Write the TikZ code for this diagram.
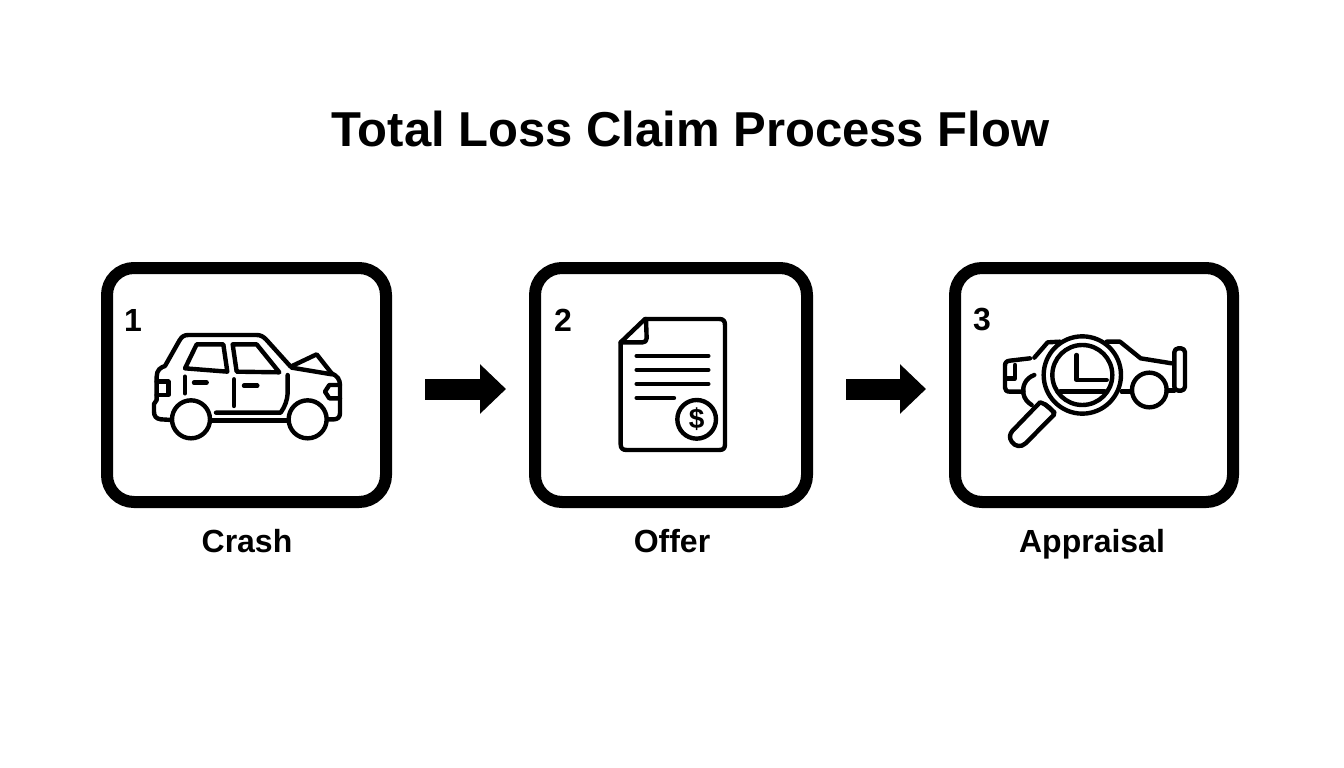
\documentclass[tikz,border=0pt]{standalone}
\usepackage{fontspec}
\setmainfont{Liberation Sans}
\usetikzlibrary{arrows.meta}
\begin{document}
\begin{tikzpicture}[x=1pt,y=-1pt]

    \tikzset{
      stepbox/.style={
        draw,
        line width=12pt,
        rounded corners=27pt,
        minimum height=234pt,
      },
      steplabel/.style={
        anchor=base,
        font=\fontsize{32}{38}\selectfont\bfseries,
      },
      stepnum/.style={
        font=\fontsize{32}{38}\selectfont\bfseries,
      },
      flowarrow/.style={
        line width=21pt,
        -{Triangle[length=26pt,width=48pt]},
      },
      icon/.style={
        line width=4.4pt,
        line cap=round,
        line join=round,
      },
    }
    \useasboundingbox (0,0) rectangle (1344,768);
    \node[font=\fontsize{49}{56}\selectfont\bfseries] (title) at (690.5,129) {Total Loss Claim Process Flow};

    \node[stepbox,minimum width=279pt] (crash) at (246.5,385) {};
    \node[stepbox,minimum width=272pt] (offer) at (671,385) {};
    \node[stepbox,minimum width=278pt] (appraisal) at (1094,385) {};

    \node[stepnum] (num1) at (133,320) {1};
    \node[stepnum] (num2) at (563,320) {2};
    \node[stepnum] (num3) at (982,320) {3};

    \node[steplabel] (crashlabel) at (247,552) {Crash};
    \node[steplabel] (offerlabel) at (672,552) {Offer};
    \node[steplabel] (appraisallabel) at (1092,552) {Appraisal};

    \draw[flowarrow,shorten <=33pt,shorten >=23pt] ([yshift=-4pt]crash.east) -- ([yshift=-4pt]offer.west);
    \draw[flowarrow,shorten <=33pt,shorten >=23pt] ([yshift=-4pt]offer.east) -- ([yshift=-4pt]appraisal.west);

    % car
    \begin{scope}[shift={(140,320)},x=0.3333pt,y=-0.3333pt,icon]
      \draw (95,300) -- (62,298) .. controls (48,296) and (42,288) .. (42,275) -- (42,252) -- (50,240) -- (50,170)
        .. controls (50,150) and (62,142) .. (75,138) -- (118,62) .. controls (125,50) and (132,45) .. (145,45)
        -- (350,45) .. controls (362,45) and (370,50) .. (378,58) -- (452,140) -- (530,103) -- (575,160)
        .. controls (592,168) and (600,178) .. (600,195) -- (600,280) .. controls (600,292) and (592,298) .. (582,298) -- (562,298);
      \draw (455,143) -- (575,163);
      \draw (170,73) -- (250,73) -- (262,155) -- (135,145) -- cycle;
      \draw (278,73) -- (350,73) -- (418,157) -- (290,155) -- cycle;
      \draw (135,170) -- (135,220);
      \draw (162,188) -- (200,188);
      \draw (282,178) -- (282,258);
      \draw (312,197) -- (352,197);
      \draw (443,165) -- (443,220) .. controls (442,240) and (435,260) .. (422,278) -- (228,278);
      \draw (215,302) -- (440,302);
      \draw (50,185) -- (85,185) -- (85,225) -- (50,225);
      \draw (600,195) -- (568,195) -- (555,215) -- (568,235) -- (600,235);
      \draw (153,298) circle (57);
      \draw (503,298) circle (57);
    \end{scope}

    % document
    \begin{scope}[shift={(600,305)},x=0.3333pt,y=-0.3333pt,icon]
      \draw (135,42) -- (358,42) .. controls (370,42) and (375,48) .. (375,60) -- (375,418)
        .. controls (375,430) and (370,435) .. (358,435) -- (80,435) .. controls (68,435) and (62,430) .. (62,418) -- (62,112) -- cycle;
      \draw (138,42) -- (140,100) .. controls (140,108) and (135,112) .. (128,112) -- (62,112);
      \foreach \liney in {153,195,237} {
        \draw (110,\liney) -- (325,\liney);
      }
      \draw (110,279) -- (222,279);
      \draw (290,343) circle (58);
      \node[font=\fontsize{28}{32}\selectfont\bfseries] (dollar) at (290,343) {\$};
    \end{scope}

    % magnifier over car
    \begin{scope}[shift={(995,325)},x=0.3333pt,y=-0.3333pt,icon]
      \draw (118,98) -- (158,52) -- (195,50);
      \draw (335,50) -- (375,50) -- (437,100) -- (530,115);
      \draw (105,100) -- (45,107) .. controls (35,108) and (30,112) .. (30,122) -- (30,188) .. controls (30,196) and (35,200) .. (45,200) -- (85,200);
      \draw (60,120) -- (60,160) -- (35,160);
      \draw (118,150) .. controls (90,160) and (82,185) .. (85,205) .. controls (88,222) and (98,232) .. (110,240);
      \draw[rounded corners=4pt] (538,70) rectangle (570,197);
      \draw (463,195) circle (52);
      \draw (380,200) -- (410,200);
      \draw (515,197) -- (538,197);
      \draw (262,150) circle (116);
      \draw (262,150) circle (90);
      \draw (245,90) -- (245,165) -- (335,165);
      \draw (195,200) -- (330,200);
      \draw (150,238) -- (178,262);
      \draw (135,232) .. controls (160,240) and (172,255) .. (178,268) -- (92,355)
        .. controls (78,368) and (60,365) .. (50,350) .. controls (42,338) and (44,328) .. (52,318) -- cycle;
    \end{scope}

\end{tikzpicture}
\end{document}
